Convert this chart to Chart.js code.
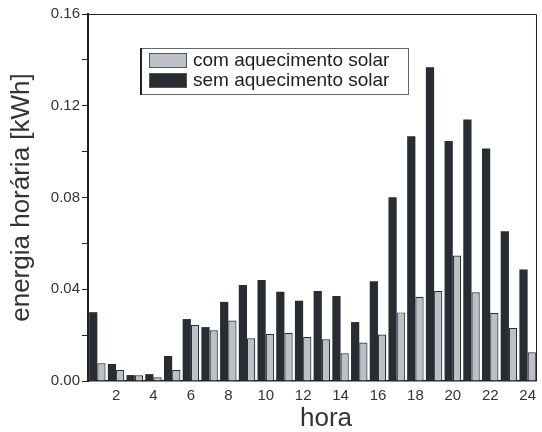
<!DOCTYPE html>
<html>
<head>
<meta charset="utf-8">
<script src="https://cdn.jsdelivr.net/npm/chart.js@4.4.1/dist/chart.umd.min.js"></script>
<style>
  html, body { margin: 0; padding: 0; background: #fff; }
  #wrap { width: 542px; height: 432px; }
</style>
</head>
<body>
<div id="wrap"><canvas id="myChart" width="542" height="432"></canvas></div>
<script>
const hours = ['1','2','3','4','5','6','7','8','9','10','11','12','13','14','15','16','17','18','19','20','21','22','23','24'];
// sem aquecimento solar (dark bars)
const semSolar = [0.0300, 0.0074, 0.0026, 0.0030, 0.0109, 0.0270, 0.0235, 0.0345, 0.0418, 0.0440, 0.0389, 0.0350,
                  0.0392, 0.0371, 0.0257, 0.0435, 0.0801, 0.1067, 0.1368, 0.1046, 0.1140, 0.1014, 0.0653, 0.0486];
// com aquecimento solar (light bars)
const comSolar = [0.0077, 0.0048, 0.0025, 0.0016, 0.0048, 0.0244, 0.0221, 0.0264, 0.0186, 0.0205, 0.0209, 0.0192,
                  0.0182, 0.0121, 0.0168, 0.0203, 0.0299, 0.0367, 0.0392, 0.0547, 0.0387, 0.0296, 0.0231, 0.0125];
const yTicks = [0, 0.02, 0.04, 0.06, 0.08, 0.10, 0.12, 0.14, 0.16];

const fontFam = '"Liberation Sans", Arial, sans-serif';

// box around the plot, legend inside, x title
const frameAndLegend = {
  id: 'frameAndLegend',
  afterDraw(chart) {
    const ctx = chart.ctx;
    const a = chart.chartArea;
    ctx.save();
    ctx.strokeStyle = '#222';
    ctx.lineWidth = 1;
    ctx.beginPath();
    ctx.moveTo(a.left, a.top + 0.5);
    ctx.lineTo(a.right - 0.5, a.top + 0.5);
    ctx.lineTo(a.right - 0.5, a.bottom);
    ctx.stroke();

    // legend
    const lx = 140, ly = 48, lw = 268, lh = 46;
    ctx.fillStyle = '#fff';
    ctx.fillRect(lx, ly, lw, lh);
    ctx.strokeStyle = '#666';
    ctx.lineWidth = 1;
    ctx.strokeRect(lx + 0.5, ly + 0.5, lw, lh);
    ctx.strokeStyle = '#222';
    ctx.lineWidth = 2;
    ctx.beginPath();
    ctx.moveTo(lx + 1, ly);
    ctx.lineTo(lx + 1, ly + lh + 1);
    ctx.stroke();

    const ds = chart.data.datasets;
    const items = [ds[1], ds[0]];
    ctx.font = '19px ' + fontFam;
    ctx.textBaseline = 'middle';
    items.forEach((d, i) => {
      const sy = ly + 5 + i * 20;
      ctx.fillStyle = d.backgroundColor;
      ctx.fillRect(lx + 9, sy, 38, 15);
      ctx.strokeStyle = '#555';
      ctx.lineWidth = 1;
      ctx.strokeRect(lx + 9.5, sy + 0.5, 37, 14);
      ctx.fillStyle = '#222';
      ctx.fillText(d.label, lx + 53, sy + 8);
    });

    // x axis title
    ctx.font = '26px ' + fontFam;
    ctx.fillStyle = '#333';
    ctx.textAlign = 'center';
    ctx.textBaseline = 'alphabetic';
    ctx.fillText('hora', 326, 426);
    ctx.restore();
  }
};

const data = {
  labels: hours,
  datasets: [{
    label: 'sem aquecimento solar',
    data: semSolar,
    backgroundColor: '#272d33',
    borderWidth: 0,
    categoryPercentage: 0.88,
    barPercentage: 1
  }, {
    label: 'com aquecimento solar',
    data: comSolar,
    backgroundColor: '#bdc0c7',
    borderColor: '#2a2f35',
    borderWidth: 1.2,
    categoryPercentage: 0.88,
    barPercentage: 1
  }]
};

const config = {
  type: 'bar',
  data,
  options: {
    responsive: false,
    animation: false,
    layout: { padding: { top: 14, right: 1, left: 0, bottom: 0 } },
    plugins: {
      legend: { display: false },
      tooltip: { enabled: false }
    },
    scales: {
      x: {
        grid: { drawOnChartArea: false, drawTicks: false },
        border: { display: true, color: '#222', width: 1.5 },
        ticks: {
          autoSkip: false,
          maxRotation: 0,
          padding: 6,
          color: '#333',
          font: { family: fontFam, size: 15 },
          callback: (v, i) => (i % 2 === 1 ? hours[i] : '')
        },
        afterFit: s => { s.height = 51; }
      },
      y: {
        min: 0,
        max: 0.16,
        afterBuildTicks: s => { s.ticks = yTicks.map(v => ({ value: v })); },
        grid: { drawOnChartArea: false, drawTicks: true, tickLength: 6, color: '#222' },
        border: { display: true, color: '#222', width: 2 },
        ticks: {
          padding: 2,
          color: '#333',
          font: { family: fontFam, size: 15 },
          callback: v => (Math.round(v * 100) % 4 === 0 ? v.toFixed(2) : '')
        },
        title: {
          display: true,
          text: 'energia horária [kWh]',
          color: '#333',
          font: { family: fontFam, size: 26 },
          padding: { top: 6, bottom: 0 }
        },
        afterFit: s => { s.width = 88; }
      }
    }
  },
  plugins: [frameAndLegend]
};

const myChart = new Chart(document.getElementById('myChart'), config);
</script>
</body>
</html>
